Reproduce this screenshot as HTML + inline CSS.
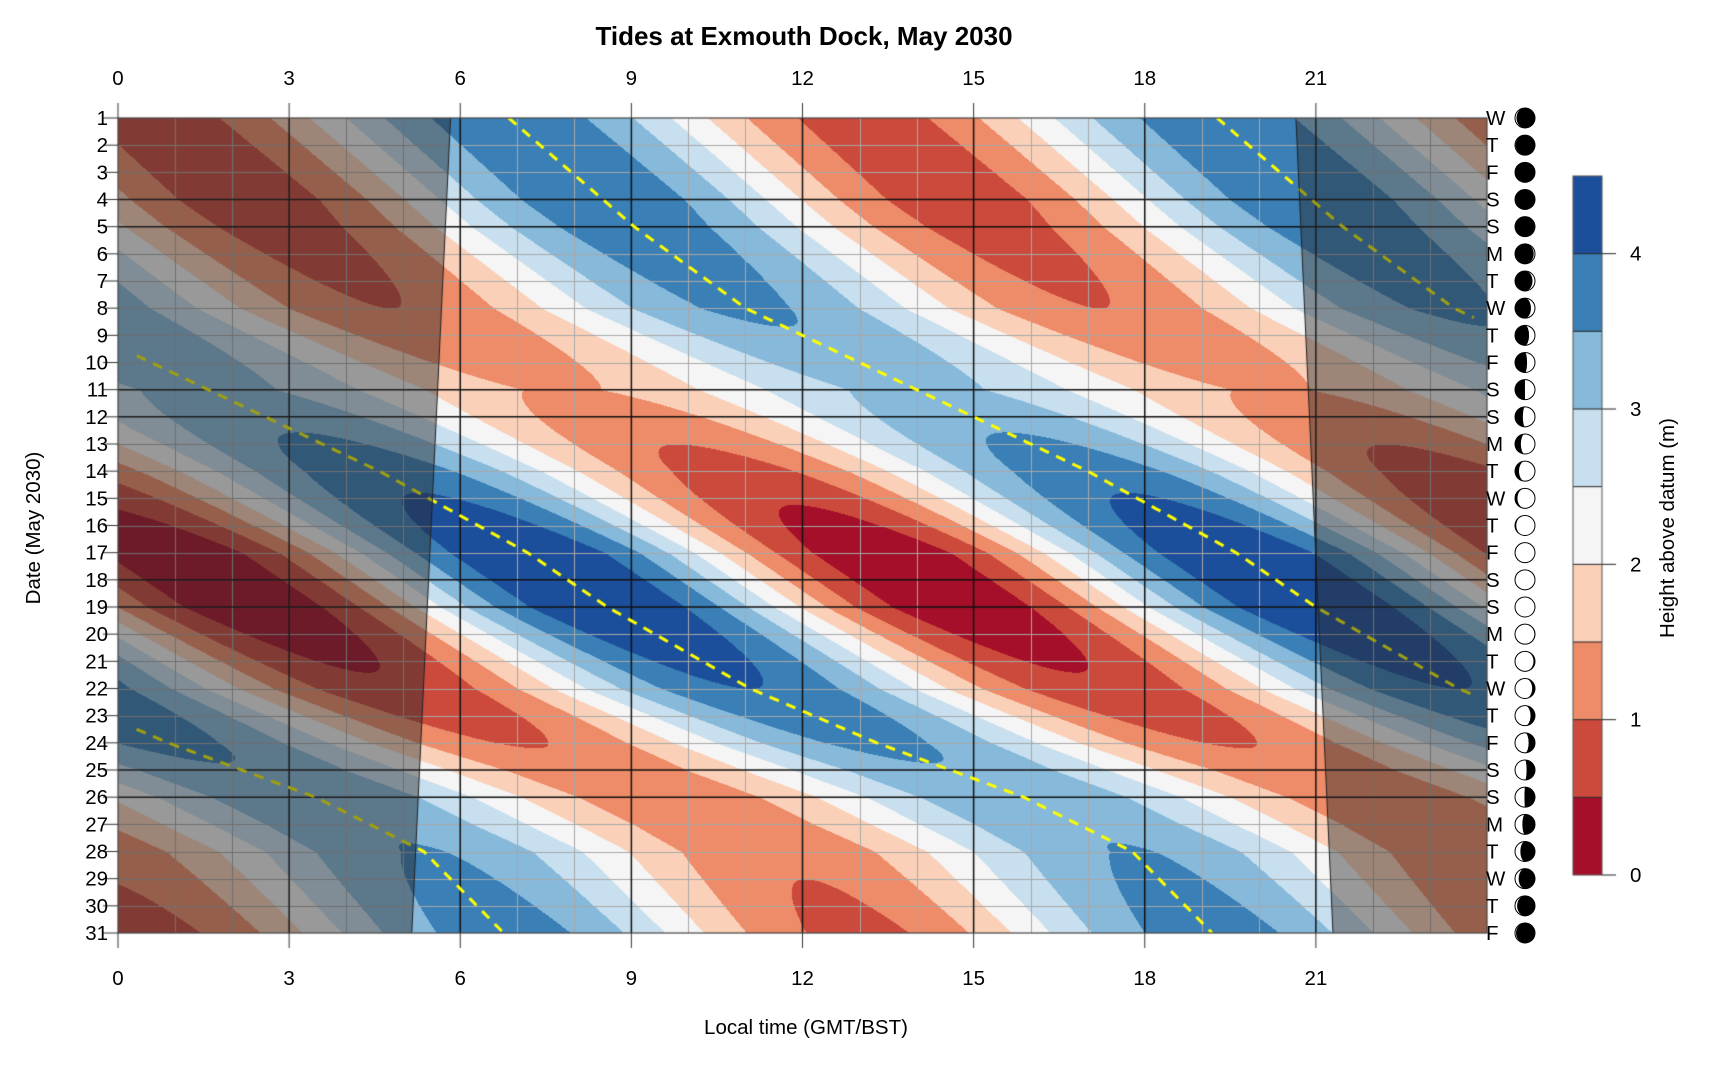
<!DOCTYPE html>
<html><head><meta charset="utf-8"><style>
html,body{margin:0;padding:0;background:#fff;width:1720px;height:1080px;overflow:hidden}
#c{position:absolute;left:0;top:0}
svg{position:absolute;left:0;top:0}
text{font-family:"Liberation Sans",sans-serif;fill:#000}
</style></head><body>
<canvas id="c" width="1720" height="1080"></canvas>
<svg id="s" width="1720" height="1080" xmlns="http://www.w3.org/2000/svg">
<text x="804" y="45" text-anchor="middle" font-size="26" font-weight="bold">Tides at Exmouth Dock, May 2030</text>
<g font-size="20.5" text-anchor="middle" id="xt"></g>
<g font-size="20.5" text-anchor="end" id="yt"></g>
<text x="806" y="1034" text-anchor="middle" font-size="20.5">Local time (GMT/BST)</text>
<text transform="translate(40,528) rotate(-90)" text-anchor="middle" font-size="20.5">Date (May 2030)</text>
<g id="moon"></g>
<g id="cb"></g>
<text transform="translate(1674,528) rotate(-90)" text-anchor="middle" font-size="20.5">Height above datum (m)</text>
</svg>
<script>
var L=118,R=1487,T=118,B=933,PW=(R-L)/24,PD=(B-T)/30;
var cols=["#a50f29","#cb4a3c","#ee8b68","#fbd0b8","#f5f5f5","#c7dfee","#86b9da","#3a7fb6","#1c4f9b"];
function interp(pts,d){if(d<=pts[0][0])return pts[0][1]+(d-pts[0][0])*(pts[1][1]-pts[0][1])/(pts[1][0]-pts[0][0]);
for(var i=0;i<pts.length-1;i++){if(d<=pts[i+1][0]){var a=pts[i],b=pts[i+1];return a[1]+(d-a[0])*(b[1]-a[1])/(b[0]-a[0]);}}
var n=pts.length,a=pts[n-2],b=pts[n-1];return b[1]+(d-b[0])*(b[1]-a[1])/(b[0]-a[0]);}
var PH=[[1,6.85],[5,9.05],[8,11.0],[11,14.0],[12,15.0],[14,17.0],[17,19.6],[19,21.0],[22,23.5],[24,25.72],[26,28.3],[28,30.2],[31,31.6]];
var AM=[[1,1.55],[4,1.6],[8,1.3],[11,0.85],[13,1.3],[17,2.2],[19,2.2],[22,1.7],[25,1.15],[27,1.15],[29,1.3],[31,1.45]];
function hgt(t,d){var p=interp(PH,d),a=interp(AM,d);return 2.3+a*Math.cos(2*Math.PI*(t-p)/12.42);}
function hex(c){return [parseInt(c.substr(1,2),16),parseInt(c.substr(3,2),16),parseInt(c.substr(5,2),16)];}
var rgb=cols.map(hex);
var cv=document.getElementById('c'),ctx=cv.getContext('2d');
var W=R-L,H=B-T,img=ctx.createImageData(W,H);
for(var y=0;y<H;y++){var d=1+y/PD;for(var x=0;x<W;x++){var t=x/PW;var h=hgt(t,d);var k=Math.floor(h/0.5);if(k<0)k=0;if(k>8)k=8;var c=rgb[k],o=(y*W+x)*4;img.data[o]=c[0];img.data[o+1]=c[1];img.data[o+2]=c[2];img.data[o+3]=255;}}
ctx.putImageData(img,L,T);
function X(t){return L+t*PW}function Y(d){return T+(d-1)*PD}
ctx.lineWidth=1;ctx.strokeStyle="#a8a8a8";
for(var i=1;i<24;i++){if(i%3==0)continue;ctx.beginPath();ctx.moveTo(Math.round(X(i))+0.5,T);ctx.lineTo(Math.round(X(i))+0.5,B);ctx.stroke();}
var wk=[4,5,11,12,18,19,25,26];
for(var d=2;d<31;d++){if(wk.indexOf(d)>=0)continue;ctx.beginPath();ctx.moveTo(L,Math.round(Y(d))+0.5);ctx.lineTo(R,Math.round(Y(d))+0.5);ctx.stroke();}
ctx.strokeStyle="#111";ctx.lineWidth=1.5;
for(var i=3;i<24;i+=3){ctx.beginPath();ctx.moveTo(X(i),T);ctx.lineTo(X(i),B);ctx.stroke();}
wk.forEach(function(d){ctx.beginPath();ctx.moveTo(L,Y(d));ctx.lineTo(R,Y(d));ctx.stroke();});
ctx.save();ctx.beginPath();ctx.rect(L,T,W,H);ctx.clip();
ctx.strokeStyle="#ffff00";ctx.lineWidth=3;ctx.setLineDash([10,8]);
for(var k=-2;k<=1;k++){ctx.beginPath();var st=false;for(var d=1;d<=31.001;d+=0.05){var t=interp(PH,d)+12.42*k;if(t<0.3||t>23.8){st=false;continue;}if(!st){ctx.moveTo(X(t),Y(d));st=true}else ctx.lineTo(X(t),Y(d));}ctx.stroke();}
ctx.setLineDash([]);
function sr(d){return 5.83+(d-1)*(5.15-5.83)/30}function ss(d){return 20.65+(d-1)*(21.3-20.65)/30}
ctx.fillStyle="rgba(43,43,43,0.45)";
ctx.beginPath();ctx.moveTo(L,T);ctx.lineTo(X(sr(1)),T);ctx.lineTo(X(sr(31)),B);ctx.lineTo(L,B);ctx.closePath();ctx.fill();
ctx.beginPath();ctx.moveTo(X(ss(1)),T);ctx.lineTo(R,T);ctx.lineTo(R,B);ctx.lineTo(X(ss(31)),B);ctx.closePath();ctx.fill();
ctx.strokeStyle="#222";ctx.lineWidth=1;
ctx.beginPath();ctx.moveTo(X(sr(1)),T);ctx.lineTo(X(sr(31)),B);ctx.stroke();
ctx.beginPath();ctx.moveTo(X(ss(1)),T);ctx.lineTo(X(ss(31)),B);ctx.stroke();
ctx.restore();
ctx.strokeStyle="#444";ctx.lineWidth=1.2;ctx.strokeRect(L,T,W,H);
ctx.strokeStyle="#333";ctx.lineWidth=1;
for(var i=0;i<24;i+=3){ctx.beginPath();ctx.moveTo(X(i),T-15);ctx.lineTo(X(i),T);ctx.stroke();ctx.beginPath();ctx.moveTo(X(i),B);ctx.lineTo(X(i),B+15);ctx.stroke();}
for(var d=1;d<=31;d++){ctx.beginPath();ctx.moveTo(L-15,Y(d));ctx.lineTo(L,Y(d));ctx.stroke();}
var cbT=176,cbB=875,cbL=1573,cbR=1602,st=(cbB-cbT)/9;
for(var i=0;i<9;i++){ctx.fillStyle=cols[i];ctx.fillRect(cbL,cbB-(i+1)*st,cbR-cbL,st);}
ctx.strokeStyle="#222";ctx.lineWidth=1;
for(var i=1;i<9;i++){ctx.beginPath();ctx.moveTo(cbL,cbB-i*st);ctx.lineTo(cbR,cbB-i*st);ctx.stroke();}
ctx.strokeStyle="#555";ctx.strokeRect(cbL,cbT,cbR-cbL,cbB-cbT);
ctx.strokeStyle="#222";
for(var m=0;m<=4;m++){var yy=cbB-m*2*st;ctx.beginPath();ctx.moveTo(cbR,yy);ctx.lineTo(cbR+14,yy);ctx.stroke();}
var NS="http://www.w3.org/2000/svg";
function tx(g,x,y,s,a){var e=document.createElementNS(NS,'text');e.setAttribute('x',x);e.setAttribute('y',y);if(a)e.setAttribute('text-anchor',a);e.textContent=s;document.getElementById(g).appendChild(e);return e;}
for(var i=0;i<24;i+=3){tx('xt',X(i),85,String(i));tx('xt',X(i),985,String(i));}
for(var d=1;d<=31;d++){tx('yt',108,Y(d)+7,String(d));}
var wd="WTFSSMT";
for(var m=0;m<=4;m++){var e=tx('cb',1630,cbB-m*2*st+7,String(m));e.setAttribute('font-size','20.5');}
var mg=document.getElementById('moon');
for(var d=1;d<=31;d++){var e=tx('moon',1486,Y(d)+7,wd[(d-1)%7]);e.setAttribute('font-size','20.5');
 var cx=1525,cy=Y(d),r=10;
 var c=document.createElementNS(NS,'circle');c.setAttribute('cx',cx);c.setAttribute('cy',cy);c.setAttribute('r',r);c.setAttribute('fill','#000');mg.appendChild(c);
 var p=2*Math.PI*(d-3.6)/29.53;var cp=Math.cos(p);var rx=Math.abs(cp)*r;var k=(1-cp)/2;
 var ph=((p%(2*Math.PI))+2*Math.PI)%(2*Math.PI);var wax=ph<Math.PI;
 var path;
 if(wax){path="M"+cx+","+(cy-r)+" A"+r+","+r+" 0 0 1 "+cx+","+(cy+r)+" A"+rx+","+r+" 0 0 "+(k<0.5?0:1)+" "+cx+","+(cy-r)+"Z";}
 else{path="M"+cx+","+(cy-r)+" A"+r+","+r+" 0 0 0 "+cx+","+(cy+r)+" A"+rx+","+r+" 0 0 "+(k<0.5?1:0)+" "+cx+","+(cy-r)+"Z";}
 var pe=document.createElementNS(NS,'path');pe.setAttribute('d',path);pe.setAttribute('fill','#fff');mg.appendChild(pe);
 var o=document.createElementNS(NS,'circle');o.setAttribute('cx',cx);o.setAttribute('cy',cy);o.setAttribute('r',r);o.setAttribute('fill','none');o.setAttribute('stroke','#000');o.setAttribute('stroke-width','1');mg.appendChild(o);
}
</script>
</body></html>
